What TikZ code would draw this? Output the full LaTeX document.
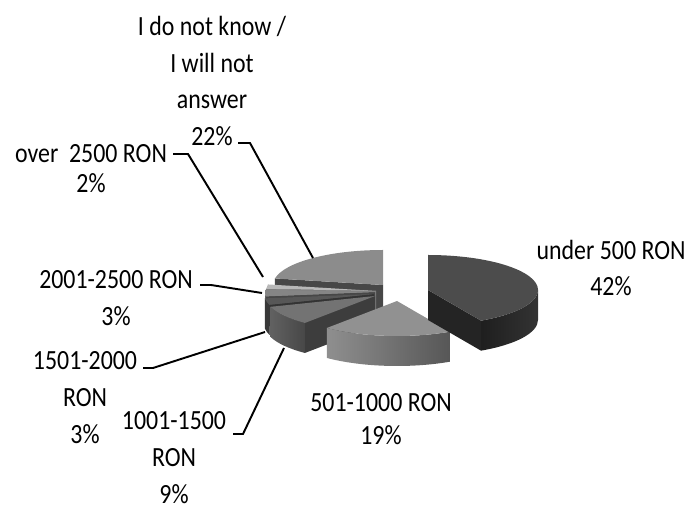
\documentclass[tikz,border=0pt]{standalone}
\usepackage{fontspec}
\setmainfont{Carlito}[FakeStretch=0.86]
\usetikzlibrary{calc}
\tikzset{
    lbl/.style={align=center, inner sep=0pt, font=\fontsize{15.8}{21}\selectfont},
    leader/.style={line width=1.1pt, line join=miter}
}
% pieces of a slice: apex, start angle, end angle, fill options
\newcommand{\slicetop}[4]{\path[#4] (#1) -- ($(#1)+(#2:110 and 35)$) arc[start angle=#2, end angle=#3, x radius=110, y radius=35] -- cycle;}
\newcommand{\slicewall}[4]{\path[#4] ($(#1)+(#2:110 and 35)$) arc[start angle=#2, end angle=#3, x radius=110, y radius=35] -- ++(0,-30) arc[start angle=#3, end angle=#2, x radius=110, y radius=35] -- cycle;}
\newcommand{\sliceface}[3]{\path[#3] (#1) -- ($(#1)+(#2:110 and 35)$) -- ++(0,-30) -- ($(#1)+(0,-30)$) -- cycle;}

\begin{document}
\begin{tikzpicture}[x=0.02cm, y=0.02cm]
\useasboundingbox (0,0) rectangle (688,513);

% apex of each slice
\coordinate (c7) at (383,228);
\coordinate (c6) at (376,222);
\coordinate (c5) at (375,221);
\coordinate (c4) at (374,219);
\coordinate (c3) at (375,217);
\coordinate (c2) at (397,212);
\coordinate (c1) at (428,223);

% I do not know
\sliceface{c7}{169.2}{fill=black!72}
\slicetop{c7}{90}{169.2}{fill=black!45}
% over 2500
\sliceface{c6}{176.4}{fill=black!50}
\slicetop{c6}{169.2}{176.4}{fill=black!28}
% 2001-2500
\sliceface{c5}{187.2}{fill=black!72}
\slicewall{c5}{180}{187.2}{fill=black!62}
\slicetop{c5}{176.4}{187.2}{fill=black!48}
% 1501-2000
\sliceface{c4}{198}{fill=black!80}
\slicewall{c4}{187.2}{198}{fill=black!78}
\slicetop{c4}{187.2}{198}{fill=black!66}
% 1001-1500
\sliceface{c3}{230.4}{fill=black!76}
\slicewall{c3}{198}{230.4}{left color=black!62, right color=black!72}
\slicetop{c3}{198}{230.4}{fill=black!55}
% 501-1000
\slicewall{c2}{-129.6}{-61.2}{left color=black!44, right color=black!66}
\slicetop{c2}{-129.6}{-61.2}{fill=black!43}
% under 500
\sliceface{c1}{-61.2}{fill=black!86}
\slicewall{c1}{-61.2}{0}{left color=black!88, right color=black!80}
\slicetop{c1}{-61.2}{90}{fill=black!70}

% labels
\node[lbl] (dontknow) at (212,432) {I do not know /\\I will not\\answer\\22\%};
\node[lbl, font=\fontsize{15.8}{17}\selectfont] (over) at (91,344) {over\ \ 2500 RON\\2\%};
\node[lbl] (r2001) at (116,215) {2001-2500 RON\\3\%};
\node[lbl] (r1501) at (85,115) {1501-2000\\RON\\3\%};
\node[lbl] (r1001) at (174,55) {1001-1500\\RON\\9\%};
\node[lbl, font=\fontsize{15.8}{20}\selectfont] (under) at (611,245) {under 500 RON\\42\%};
\node[lbl, font=\fontsize{15.8}{19}\selectfont] (r501) at (381,94) {501-1000 RON\\19\%};

% leader lines
\coordinate (e7) at (238,370); \coordinate (p7) at (313,255);
\coordinate (e6) at (173,359); \coordinate (p6) at (263,236);
\coordinate (e5) at (200,228); \coordinate (p5) at (262,220);
\coordinate (e4) at (143,145); \coordinate (p4) at (265,181);
\coordinate (e3) at (233,79);  \coordinate (p3) at (284,165);
\draw[leader] (e7) -- ++(12,0) -- (p7);
\draw[leader] (e6) -- ++(15,0) -- (p6);
\draw[leader] (e5) -- ++(11,0) -- (p5);
\draw[leader] (e4) -- ++(10,0) -- (p4);
\draw[leader] (e3) -- ++(10,0) -- (p3);

\end{tikzpicture}
\end{document}
